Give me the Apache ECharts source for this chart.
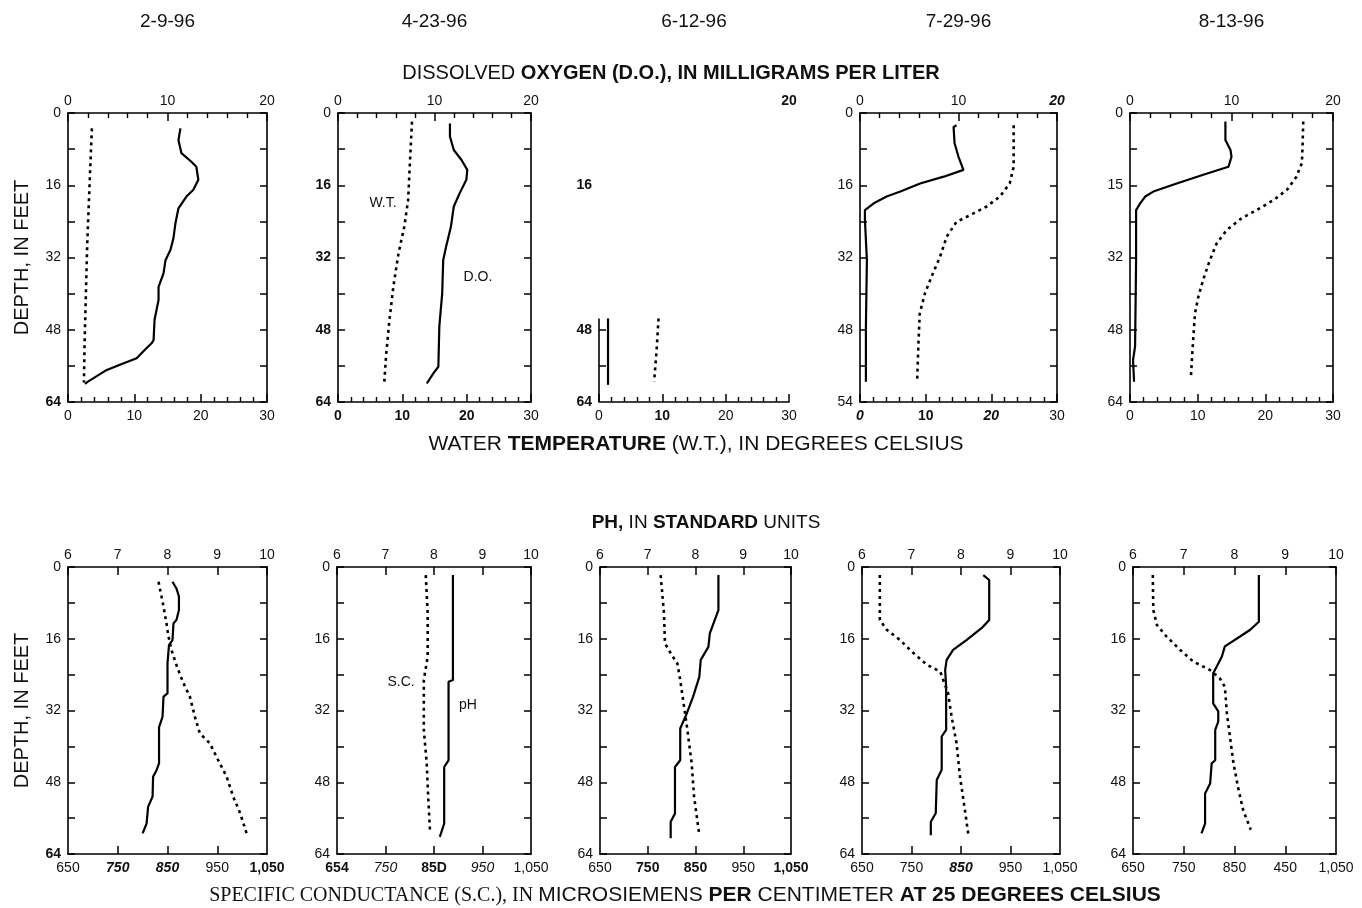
<!DOCTYPE html>
<html>
<head>
<meta charset="utf-8">
<title>Lake profiles, 1996</title>
<script src="https://cdn.jsdelivr.net/npm/echarts@6/dist/echarts.min.js"></script>
<style>
  html, body { margin: 0; padding: 0; background: #fff; }
  #chart { width: 1362px; height: 908px; }
</style>
</head>
<body>
<div id="chart"></div>
<script>
// sampling dates, one column each
var dates = ["2-9-96", "4-23-96", "6-12-96", "7-29-96", "8-13-96"];

// dissolved oxygen (mg/L) and water temperature (deg C), as [value, depth in feet]
var doFeb = [[11.3,3.4],[11.1,6.0],[11.4,8.9],[12.4,10.8],[12.9,11.9],[13.1,14.8],[12.6,17.0],[11.9,18.5],[11.1,21.1],[10.8,24.4],[10.6,27.7],[10.3,30.3],[9.8,32.6],[9.6,35.5],[9.1,38.5],[9.1,41.4],[8.7,45.8],[8.6,50.3],[8.4,51.0],[7.7,52.5],[6.9,54.3],[5.6,55.4],[3.9,56.9],[2.0,59.5],[1.7,60.0]];
var wtFeb = [[3.6,3.4],[3.4,10.4],[3.2,17.8],[2.9,28.9],[2.7,39.9],[2.5,51.0],[2.4,59.7]];
var doApr = [[11.6,2.3],[11.6,5.2],[12.0,8.2],[12.8,10.4],[13.4,12.6],[13.3,14.8],[12.6,17.8],[12.0,20.7],[11.7,25.2],[11.2,29.6],[10.9,32.6],[10.8,39.9],[10.5,47.3],[10.4,56.2],[9.9,57.6],[9.2,59.9]];
var wtApr = [[11.5,1.9],[11.2,10.4],[10.9,19.3],[10.3,25.2],[9.4,31.1],[8.6,38.5],[8.0,45.8],[7.5,53.2],[7.2,59.5]];
var doJun = [[0.95,45.5],[0.95,60.2]];
var wtJun = [[9.4,45.5],[9.1,52.5],[8.7,59.5]];
var doJul = [[9.8,2.7],[9.5,3.1],[9.6,6.7],[10.0,9.7],[10.5,12.6],[8.5,14.1],[6.1,15.6],[4.1,17.4],[2.7,18.5],[1.4,20.0],[0.5,21.5],[0.5,23.7],[0.7,32.6],[0.6,47.3],[0.6,54.7],[0.6,59.5]];
var wtJul = [[23.4,2.7],[23.4,11.9],[22.8,15.6],[21.3,18.5],[19.3,20.7],[16.8,22.6],[14.7,24.1],[13.2,27.4],[12.2,31.8],[10.9,36.2],[9.9,39.9],[9.1,44.4],[8.9,51.0],[8.7,59.5]];
var doAug = [[9.4,1.9],[9.4,6.0],[9.9,8.2],[10.0,9.7],[9.7,11.9],[7.6,13.4],[4.6,15.6],[2.3,17.4],[1.5,18.5],[1.0,20.0],[0.6,21.5],[0.6,32.6],[0.5,51.7],[0.3,54.7],[0.4,59.5]];
var wtAug = [[25.6,1.9],[25.5,7.5],[25.4,11.1],[24.6,14.1],[23.2,17.0],[21.2,19.3],[18.7,21.5],[16.5,23.3],[14.3,25.9],[12.8,28.9],[11.8,32.6],[10.8,37.0],[10.1,40.7],[9.6,44.4],[9.3,51.0],[9.0,58.4]];

// pH (standard units) and specific conductance (uS/cm), as [value, depth in feet]
var phFeb = [[8.10,3.3],[8.18,4.8],[8.23,6.6],[8.23,9.6],[8.18,11.8],[8.12,12.6],[8.10,16.3],[8.03,17.4],[8.00,21.5],[8.00,28.2],[7.92,28.9],[7.90,33.4],[7.83,35.7],[7.83,43.8],[7.78,45.3],[7.71,46.8],[7.70,51.2],[7.61,53.5],[7.58,57.2],[7.50,59.4]];
var scFeb = [[832,3.3],[842,8.8],[848,12.6],[852,15.5],[858,18.5],[869,22.2],[882,25.9],[895,28.9],[905,33.4],[915,37.1],[935,39.3],[952,43.1],[969,46.8],[982,51.2],[996,54.9],[1009,59.4]];
var phApr = [[8.39,1.8],[8.39,25.2],[8.30,25.6],[8.30,43.1],[8.21,44.6],[8.21,57.2],[8.12,60.2]];
var scApr = [[833,1.8],[837,10.3],[837,20.0],[829,25.2],[829,36.3],[835,43.8],[838,51.2],[842,59.4]];
var phJun = [[8.48,1.8],[8.48,9.6],[8.30,14.8],[8.27,17.8],[8.11,20.7],[8.08,24.5],[7.95,28.9],[7.82,32.6],[7.68,36.0],[7.68,43.1],[7.57,44.6],[7.57,55.0],[7.48,56.8],[7.48,60.5]];
var scJun = [[777,1.8],[784,10.3],[786,17.0],[800,19.6],[812,21.5],[818,25.2],[826,31.1],[833,36.3],[842,43.8],[847,51.2],[858,59.8]];
var phJul = [[8.45,1.8],[8.57,2.9],[8.57,11.8],[8.42,13.6],[8.11,16.3],[7.84,18.5],[7.71,20.7],[7.68,23.0],[7.70,26.7],[7.70,36.3],[7.61,37.8],[7.61,45.2],[7.51,47.5],[7.49,54.9],[7.39,56.8],[7.39,59.8]];
var scJul = [[686,1.8],[686,11.8],[700,14.0],[727,16.3],[754,19.2],[781,21.8],[808,23.3],[824,28.2],[831,33.4],[841,39.3],[848,46.8],[856,52.7],[865,59.8]];
var phAug = [[8.48,1.8],[8.48,12.2],[8.31,14.0],[8.11,15.5],[7.81,17.7],[7.75,20.0],[7.65,22.2],[7.58,23.7],[7.58,30.4],[7.68,32.2],[7.68,34.5],[7.62,36.3],[7.62,43.1],[7.55,43.8],[7.52,48.3],[7.42,50.5],[7.42,57.2],[7.35,59.4]];
var scAug = [[689,1.8],[690,9.6],[697,12.9],[716,15.5],[743,18.5],[769,21.1],[802,23.0],[821,24.8],[831,26.7],[835,32.6],[841,37.8],[848,43.8],[858,49.7],[867,54.2],[882,58.6]];

// tick values and the labels as printed (scan typos kept)
var doVals = [0, 10, 20], doLabels = ["0", "10", "20"];
var wtVals = [0, 10, 20, 30], wtLabels = ["0", "10", "20", "30"];
var phVals = [6, 7, 8, 9, 10], phLabels = ["6", "7", "8", "9", "10"];
var scVals = [650, 750, 850, 950, 1050];
var scLabels = ["650", "750", "850", "950", "1,050"];
var scLabelsApr = ["654", "750", "85D", "950", "1,050"];
var scLabelsAug = ["650", "750", "850", "450", "1,050"];
var depthVals = [0, 16, 32, 48, 64];
var depthLabels = ["0", "16", "32", "48", "64"];
var depthLabelsJul = ["0", "16", "32", "48", "54"];
var depthLabelsAug = ["0", "15", "32", "48", "64"];
var junDepthVals = [16, 48, 64], junDepthLabels = ["16", "48", "64"];
var junDoVals = [20], junDoLabels = ["20"];
var junAxisTop = 45.5;   // depth where the drawn left border of 6-12-96 starts

var FONT = "'Liberation Sans', Arial, Helvetica, sans-serif";
var SERIF = "'Liberation Serif', 'Times New Roman', serif";
var INK = "#111";

// x scales of the two rows
var rowAxes = [
  { top: { min: 0, max: 20, interval: 10, minor: 5 },
    bot: { min: 0, max: 30, interval: 10, minor: 5 } },
  { top: { min: 6, max: 10, interval: 1, minor: 0 },
    bot: { min: 650, max: 1050, ticks: [750, 850, 950], minor: 0 } }
];

var panels = [
  { row: 0, left: 68, top: 113, width: 199, height: 289, solid: doFeb, dotted: wtFeb,
    topVals: doVals, topLab: doLabels, topSty: ["n","n","n"],
    botVals: wtVals, botLab: wtLabels, botSty: ["n","n","n","n"],
    yVals: depthVals, yLab: depthLabels, ySty: ["n","n","n","n","b"], yName: true },
  { row: 0, left: 338, top: 113, width: 193, height: 289, solid: doApr, dotted: wtApr,
    topVals: doVals, topLab: doLabels, topSty: ["n","n","n"],
    botVals: wtVals, botLab: wtLabels, botSty: ["b","b","b","n"],
    yVals: depthVals, yLab: depthLabels, ySty: ["n","b","b","b","b"],
    notes: [{ on: "dotted", text: "W.T.", at: [7.0, 19.9] }, { on: "solid", text: "D.O.", at: [14.5, 36.3] }] },
  { row: 0, left: 599, top: 113, width: 190, height: 289, solid: doJun, dotted: wtJun, partial: true,
    topVals: junDoVals, topLab: junDoLabels, topSty: ["b"],
    botVals: wtVals, botLab: wtLabels, botSty: ["n","b","n","n"],
    yVals: junDepthVals, yLab: junDepthLabels, ySty: ["b","b","b"] },
  { row: 0, left: 860, top: 113, width: 197, height: 289, solid: doJul, dotted: wtJul,
    topVals: doVals, topLab: doLabels, topSty: ["n","n","bi"],
    botVals: wtVals, botLab: wtLabels, botSty: ["bi","b","bi","n"],
    yVals: depthVals, yLab: depthLabelsJul, ySty: ["n","n","n","n","n"] },
  { row: 0, left: 1130, top: 113, width: 203, height: 289, solid: doAug, dotted: wtAug,
    topVals: doVals, topLab: doLabels, topSty: ["n","n","n"],
    botVals: wtVals, botLab: wtLabels, botSty: ["n","n","n","n"],
    yVals: depthVals, yLab: depthLabelsAug, ySty: ["n","n","n","n","n"] },
  { row: 1, left: 68, top: 567, width: 199, height: 287, solid: phFeb, dotted: scFeb,
    topVals: phVals, topLab: phLabels, topSty: ["n","n","n","n","n"],
    botVals: scVals, botLab: scLabels, botSty: ["n","bi","bi","n","b"],
    yVals: depthVals, yLab: depthLabels, ySty: ["n","n","n","n","b"], yName: true },
  { row: 1, left: 337, top: 567, width: 194, height: 287, solid: phApr, dotted: scApr,
    topVals: phVals, topLab: phLabels, topSty: ["n","n","n","n","n"],
    botVals: scVals, botLab: scLabelsApr, botSty: ["b","i","b","i","n"],
    yVals: depthVals, yLab: depthLabels, ySty: ["n","n","n","n","n"],
    notes: [{ on: "dotted", text: "S.C.", at: [782, 25.6] }, { on: "solid", text: "pH", at: [8.7, 30.8] }] },
  { row: 1, left: 600, top: 567, width: 191, height: 287, solid: phJun, dotted: scJun,
    topVals: phVals, topLab: phLabels, topSty: ["n","n","n","n","n"],
    botVals: scVals, botLab: scLabels, botSty: ["n","b","b","n","b"],
    yVals: depthVals, yLab: depthLabels, ySty: ["n","n","n","n","n"] },
  { row: 1, left: 862, top: 567, width: 198, height: 287, solid: phJul, dotted: scJul,
    topVals: phVals, topLab: phLabels, topSty: ["n","n","n","n","n"],
    botVals: scVals, botLab: scLabels, botSty: ["n","n","bi","n","n"],
    yVals: depthVals, yLab: depthLabels, ySty: ["n","n","n","n","n"] },
  { row: 1, left: 1133, top: 567, width: 203, height: 287, solid: phAug, dotted: scAug,
    topVals: phVals, topLab: phLabels, topSty: ["n","n","n","n","n"],
    botVals: scVals, botLab: scLabelsAug, botSty: ["n","n","n","n","n"],
    yVals: depthVals, yLab: depthLabels, ySty: ["n","n","n","n","n"] }
];

var tickRich = {
  n: { fontFamily: FONT, fontSize: 14, color: INK, fontWeight: "normal" },
  b: { fontFamily: FONT, fontSize: 14, color: INK, fontWeight: "bold" },
  i: { fontFamily: FONT, fontSize: 14, color: INK, fontStyle: "italic" },
  bi: { fontFamily: FONT, fontSize: 14, color: INK, fontWeight: "bold", fontStyle: "italic" }
};

function labelFmt(vals, labels, styles) {
  return function (v) {
    var k = vals.indexOf(v);
    if (k < 0) return "";
    return "{" + styles[k] + "|" + labels[k] + "}";
  };
}

var axisLine = { show: true, onZero: false, lineStyle: { color: "#000", width: 1.6 } };

function makeX(gi, pos, spec, vals, labels, styles, bare) {
  return {
    type: "value", gridIndex: gi, position: pos,
    min: spec.min, max: spec.max, interval: spec.interval,
    axisLine: bare ? { show: false, onZero: false } : axisLine,
    axisTick: { show: !bare, inside: true, length: 8, customValues: spec.ticks,
      lineStyle: { color: "#000", width: 1.5 } },
    minorTick: { show: !bare && spec.minor > 0, splitNumber: spec.minor || 5, length: 5,
      lineStyle: { color: "#000", width: 1.4 } },
    splitLine: { show: false },
    axisLabel: { customValues: vals, formatter: labelFmt(vals, labels, styles),
      margin: pos === "top" ? 5 : 7, rich: tickRich }
  };
}

function makeY(gi, pos, p) {
  var right = pos === "right";
  var ax = {
    type: "value", gridIndex: gi, position: pos, inverse: true,
    min: 0, max: 64, interval: 16,
    axisLine: axisLine,
    axisTick: { show: true, inside: true, length: 7, lineStyle: { color: "#000", width: 1.5 } },
    minorTick: { show: true, splitNumber: 2, length: 7, lineStyle: { color: "#000", width: 1.5 } },
    splitLine: { show: false },
    axisLabel: right ? { show: false } :
      { customValues: p.yVals, formatter: labelFmt(p.yVals, p.yLab, p.ySty), margin: 7, rich: tickRich }
  };
  if (p.partial) {
    if (right) return { type: "value", gridIndex: gi, position: pos, inverse: true, min: 0, max: 64, show: false };
    ax.axisLine = { show: false, onZero: false };
    ax.axisTick = { show: true, inside: true, length: 7, customValues: [48, 56],
      lineStyle: { color: "#000", width: 1.5 } };
    ax.minorTick = { show: false };
  }
  if (p.yName && !right) {
    ax.name = "DEPTH, IN FEET";
    ax.nameLocation = "middle";
    ax.nameRotate = 90;
    ax.nameGap = 36;
    ax.nameTextStyle = { fontFamily: FONT, fontSize: 20, color: INK };
  }
  return ax;
}

var grids = [], xAxes = [], yAxes = [], series = [];

panels.forEach(function (p, i) {
  var spec = rowAxes[p.row];
  grids.push({ left: p.left, top: p.top, width: p.width, height: p.height,
    containLabel: false, outerBoundsMode: "none" });
  xAxes.push(makeX(i, "top", spec.top, p.topVals, p.topLab, p.topSty, p.partial));
  xAxes.push(makeX(i, "bottom", spec.bot, p.botVals, p.botLab, p.botSty, false));
  yAxes.push(makeY(i, "left", p));
  yAxes.push(makeY(i, "right", p));

  var solid = {
    type: "line", xAxisIndex: 2 * i, yAxisIndex: 2 * i, data: p.solid,
    symbol: "none", silent: true,
    lineStyle: { color: "#000", width: 2.2 }
  };
  var dotted = {
    type: "line", xAxisIndex: 2 * i + 1, yAxisIndex: 2 * i, data: p.dotted,
    symbol: "none", silent: true,
    lineStyle: { color: "#000", width: 2.6, type: [3, 4] }
  };
  var byName = { solid: solid, dotted: dotted };
  (p.notes || []).forEach(function (n) {
    byName[n.on].markPoint = {
      silent: true, symbol: "circle", symbolSize: 0,
      label: { show: true, position: "inside", formatter: n.text,
        fontFamily: FONT, fontSize: 14, color: INK },
      data: [{ coord: n.at }]
    };
  });
  if (p.partial) {
    // only the lower part of the left border survived in the original
    solid.markLine = {
      silent: true, symbol: ["none", "none"], label: { show: false },
      lineStyle: { type: "solid", color: "#000", width: 1.6 },
      data: [[{ coord: [0, junAxisTop] }, { coord: [0, 64] }]]
    };
  }
  series.push(solid, dotted);
});

var titles = panels.slice(0, 5).map(function (p, i) {
  return {
    text: dates[i], left: p.left + p.width / 2, top: 12, textAlign: "center", padding: 0,
    textStyle: { fontFamily: FONT, fontSize: 19, fontWeight: "normal", color: INK }
  };
});

function rich(size, serifSize) {
  return {
    n: { fontFamily: FONT, fontSize: size, color: INK, fontWeight: "normal" },
    b: { fontFamily: FONT, fontSize: size, color: INK, fontWeight: "bold" },
    s: { fontFamily: SERIF, fontSize: serifSize || size, color: INK, fontWeight: "normal" }
  };
}

titles.push(
  { text: "{n|DISSOLVED }{b|OXYGEN (D.O.), IN MILLIGRAMS PER LITER}",
    left: 671, top: 63, textAlign: "center", padding: 0,
    textStyle: { fontWeight: "normal", rich: rich(20) } },
  { text: "{n|WATER }{b|TEMPERATURE}{n| (W.T.), IN DEGREES CELSIUS}",
    left: 696, top: 434, textAlign: "center", padding: 0,
    textStyle: { fontWeight: "normal", rich: rich(21) } },
  { text: "{b|PH,}{n| IN }{b|STANDARD}{n| UNITS}",
    left: 706, top: 513, textAlign: "center", padding: 0,
    textStyle: { fontWeight: "normal", rich: rich(19) } },
  { text: "{s|SPECIFIC CONDUCTANCE (S.C.), IN }{n|MICROSIEMENS }{b|PER}{n| CENTIMETER }{b|AT 25 DEGREES CELSIUS}",
    left: 685, top: 885, textAlign: "center", padding: 0,
    textStyle: { fontWeight: "normal", rich: rich(21, 20) } }
);

var chart = echarts.init(document.getElementById("chart"), null, { renderer: "canvas" });
chart.setOption({
  backgroundColor: "#fff",
  animation: false,
  title: titles,
  grid: grids,
  xAxis: xAxes,
  yAxis: yAxes,
  series: series
});
</script>
</body>
</html>
